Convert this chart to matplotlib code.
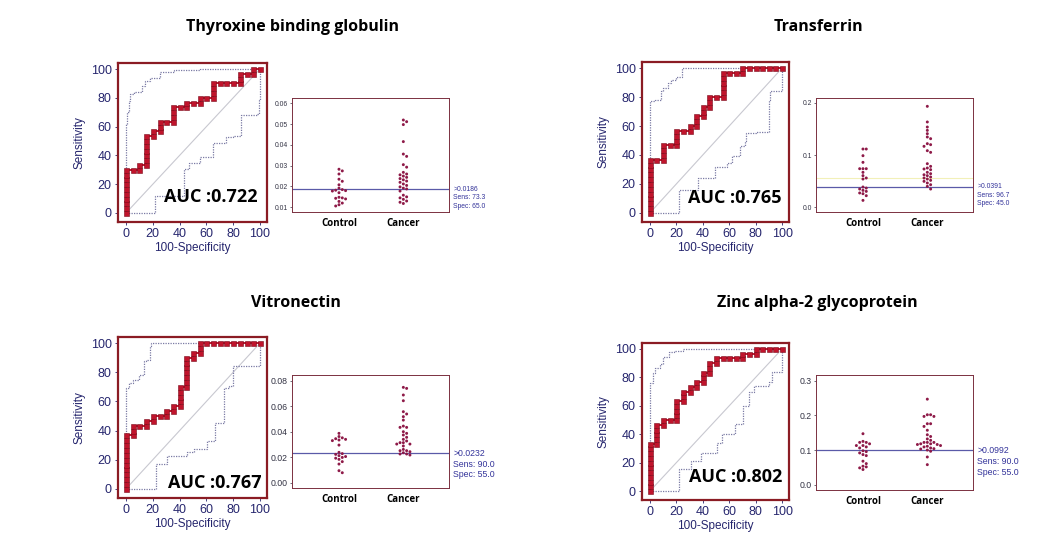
import numpy as np
import matplotlib
matplotlib.use("Agg")
import matplotlib.pyplot as plt
from matplotlib import font_manager

# ---- data ----
titles = ["Thyroxine binding globulin", "Transferrin", "Vitronectin", "Zinc alpha-2 glycoprotein"]
auc_labels = ["AUC :0.722", "AUC :0.765", "AUC :0.767", "AUC :0.802"]
groups = ["Control", "Cancer"]
n_control, n_cancer = 20, 30

# number of cancer cases above threshold after k controls (k = 0..20)
roc_tbg = [9, 9, 10, 16, 17, 19, 19, 22, 22, 23, 23, 24, 24, 27, 27, 27, 27, 29, 29, 30, 30]
roc_trf = [11, 11, 14, 14, 17, 17, 18, 20, 22, 24, 24, 29, 29, 29, 30, 30, 30, 30, 30, 30, 30]
roc_vtn = [11, 13, 13, 14, 15, 15, 16, 17, 21, 27, 28, 30, 30, 30, 30, 30, 30, 30, 30, 30, 30]
roc_zag = [10, 14, 15, 15, 19, 21, 22, 23, 25, 27, 28, 28, 28, 28, 29, 29, 30, 30, 30, 30, 30]

# confidence bands (corner points)
up_tbg_x = [0, 0, 1, 2, 3.2, 5.7, 12, 14.4, 18, 25.6, 35.5, 55, 100]
up_tbg_y = [0, 55, 62, 70, 77.5, 83, 84, 88, 91.4, 93.8, 97.7, 99, 100]
lo_tbg_x = [0, 21.8, 43, 46.7, 55, 65, 75, 80, 86, 97.5, 99.5, 100]
lo_tbg_y = [0, 12, 30.5, 34.7, 39, 48.6, 52.8, 53.7, 68, 68.5, 78.7, 100]

up_trf_x = [0, 0, 3.7, 8.5, 9.8, 13.4, 15.9, 19.5, 24.4, 26.8, 100]
up_trf_y = [0, 70, 77, 78, 84, 86, 89.7, 92, 94, 100, 100]
lo_trf_x = [0, 22, 36.6, 49.5, 58.5, 62, 68, 72, 73, 80.5, 90, 91, 99, 100]
lo_trf_y = [0, 16, 24, 32, 34.5, 39, 46, 49.4, 55, 56, 78, 84, 84, 100]

up_vtn_x = [0, 0, 2.5, 5, 10, 13.6, 14.8, 18, 18.5, 23.5, 100]
up_vtn_y = [0, 67, 69, 72.7, 75, 78.4, 87.5, 88.6, 97.7, 100, 100]
lo_vtn_x = [0, 22.2, 30.9, 45.7, 50.6, 60.5, 66.7, 72.8, 76.5, 80.2, 99.5, 100]
lo_vtn_y = [0, 17, 22.7, 25, 27.3, 33, 45.5, 69, 70.5, 84, 84, 100]

up_zag_x = [0, 0, 2.5, 3.7, 7.4, 9.9, 14.8, 18.5, 24.7, 70, 100]
up_zag_y = [0, 74.8, 76, 82.8, 86.3, 89.7, 94.3, 97.7, 98.9, 100, 100]
lo_zag_x = [0, 22.2, 30.9, 38.3, 50.6, 54.3, 64.2, 70.4, 75.3, 79, 90, 92.6, 98.8, 100]
lo_zag_y = [0, 15.3, 21, 26.8, 33.6, 40.5, 47.4, 60, 70, 73.7, 77, 84, 84, 100]

# dot plot values
ctl_tbg = [0.0283, 0.0275, 0.026, 0.0235, 0.0225, 0.0208, 0.0192, 0.0185, 0.0182, 0.018,
           0.0178, 0.017, 0.0148, 0.0145, 0.0143, 0.014, 0.0128, 0.012, 0.0112, 0.0106]
can_tbg = [0.052, 0.0512, 0.0498, 0.0416, 0.0356, 0.0345, 0.0305, 0.0293, 0.0268, 0.026,
           0.0256, 0.025, 0.0244, 0.0238, 0.0232, 0.0226, 0.022, 0.0212, 0.0205, 0.0198,
           0.0192, 0.0188, 0.0178, 0.0158, 0.015, 0.0145, 0.0138, 0.013, 0.0124, 0.0118]
ctl_trf = [0.1115, 0.1115, 0.0987, 0.0859, 0.0737, 0.0737, 0.0737, 0.0667, 0.0603, 0.0558,
           0.0538, 0.0385, 0.0365, 0.0346, 0.032, 0.0301, 0.027, 0.0256, 0.0218, 0.0128]
can_trf = [0.1936, 0.1635, 0.1538, 0.1474, 0.141, 0.1346, 0.1314, 0.1218, 0.1199, 0.1167,
           0.1083, 0.1051, 0.0833, 0.0782, 0.075, 0.0731, 0.0718, 0.0667, 0.0641, 0.062,
           0.0603, 0.0577, 0.0558, 0.0538, 0.0513, 0.0494, 0.0462, 0.0429, 0.0397, 0.0346]
ctl_vtn = [0.0387, 0.0362, 0.0352, 0.0345, 0.034, 0.0335, 0.033, 0.0295, 0.0238, 0.0228,
           0.0222, 0.0212, 0.0205, 0.0198, 0.0192, 0.0183, 0.0165, 0.0146, 0.0094, 0.0078]
can_vtn = [0.0748, 0.074, 0.0688, 0.0643, 0.0557, 0.0539, 0.0518, 0.0491, 0.0444, 0.0434,
           0.0434, 0.04, 0.0387, 0.0374, 0.0356, 0.034, 0.0327, 0.0314, 0.0314, 0.0303,
           0.0303, 0.0288, 0.0261, 0.0251, 0.0251, 0.0243, 0.0235, 0.0225, 0.0225, 0.0217]
ctl_zag = [0.147, 0.125, 0.122, 0.122, 0.118, 0.113, 0.113, 0.109, 0.106, 0.098,
           0.0955, 0.0917, 0.087, 0.084, 0.068, 0.061, 0.0535, 0.0516, 0.0487, 0.044]
can_zag = [0.2465, 0.2016, 0.2016, 0.1968, 0.1968, 0.1758, 0.1758, 0.168, 0.157, 0.144,
           0.139, 0.132, 0.128, 0.122, 0.122, 0.122, 0.118, 0.118, 0.116, 0.116,
           0.113, 0.111, 0.109, 0.106, 0.104, 0.103, 0.1, 0.0965, 0.08, 0.058]

cutoffs = [0.0186, 0.0391, 0.0232, 0.0992]
sens_vals = ["73.3", "96.7", "90.0", "90.0"]
spec_vals = ["65.0", "45.0", "55.0", "55.0"]
dot_yticks = [[0.01, 0.02, 0.03, 0.04, 0.05, 0.06], [0.0, 0.1, 0.2],
              [0.00, 0.02, 0.04, 0.06, 0.08], [0.0, 0.1, 0.2, 0.3]]
dot_fmt = ["%.2f", "%.1f", "%.2f", "%.1f"]
dot_ylim = [(0.0077, 0.0626), (-0.0096, 0.2096), (-0.0042, 0.0845), (-0.015, 0.316)]

# ---- layout (figure fractions) ----
roc_rects = [[0.1130, 0.5993, 0.1427, 0.2870], [0.6149, 0.5993, 0.1408, 0.2888],
             [0.1130, 0.1011, 0.1427, 0.2906], [0.6149, 0.0975, 0.1408, 0.2834]]
dot_rects = [[0.2797, 0.6173, 0.1504, 0.2058], [0.7816, 0.6173, 0.1504, 0.2058],
             [0.2797, 0.1191, 0.1504, 0.2040], [0.7816, 0.1155, 0.1504, 0.2076]]
title_pos = [(0.2797, 0.951), (0.7835, 0.951), (0.2835, 0.453), (0.7825, 0.453)]
auc_pos = [(0.94, 0.157), (0.952, 0.15), (0.966, 0.093), (0.952, 0.146)]
small_font = [4.9, 4.9, 6.3, 6.3]

NAVY = "#26266e"
FRAME = "#8b1c24"
RED = "#c0142c"
DOT = "#8e1a48"
CUT = "#5a5aa8"

rocs = [roc_tbg, roc_trf, roc_vtn, roc_zag]
ups = [(up_tbg_x, up_tbg_y), (up_trf_x, up_trf_y), (up_vtn_x, up_vtn_y), (up_zag_x, up_zag_y)]
los = [(lo_tbg_x, lo_tbg_y), (lo_trf_x, lo_trf_y), (lo_vtn_x, lo_vtn_y), (lo_zag_x, lo_zag_y)]
dots = [(ctl_tbg, can_tbg), (ctl_trf, can_trf), (ctl_vtn, can_vtn), (ctl_zag, can_zag)]


def pick_bold():
    # first family that really has a bold face file
    for fam in ["Noto Sans", "Open Sans", "Lato", "Noto Sans CJK KR", "DejaVu Sans"]:
        try:
            path = font_manager.findfont(font_manager.FontProperties(family=fam, weight="bold"),
                                         fallback_to_default=False)
        except Exception:
            continue
        if "bold" in path.lower():
            return fam
    return "DejaVu Sans"


def roc_points(counts):
    xs, ys = [], []
    prev = 0
    for k, c in enumerate(counts):
        for i in range(prev, c + 1):
            xs.append(100.0 * k / n_control)
            ys.append(100.0 * i / n_cancer)
        prev = c
    return np.array(xs), np.array(ys)


def swarm(vals, center, ylim, h_px, w_px_per_unit, d_px=3.3):
    vals = np.asarray(vals, dtype=float)
    py = (vals - ylim[0]) / (ylim[1] - ylim[0]) * h_px
    order = np.argsort(-vals)
    placed = []
    xs = np.zeros(len(vals))
    for idx in order:
        for j in range(0, 40):
            off = ((j + 1) // 2) * (1 if j % 2 else -1) * d_px
            ok = all((off - px) ** 2 + (py[idx] - pyy) ** 2 >= (d_px * 0.95) ** 2 for px, pyy in placed)
            if ok:
                placed.append((off, py[idx]))
                xs[idx] = center + off / w_px_per_unit
                break
    return xs


fig = plt.figure(figsize=(10.44, 5.54), dpi=100)
tick_font = ["Liberation Sans", "DejaVu Sans"]
bold_font = [pick_bold(), "DejaVu Sans"]

for p in range(4):
    # ROC panel
    ax = fig.add_axes(roc_rects[p])
    ax.plot([0, 100], [0, 100], color="#c8c8d0", lw=0.8, zorder=1)
    ux, uy = ups[p]
    lx, ly = los[p]
    ax.plot(ux, uy, color="#7a7aa4", lw=0.9, ls=(0, (1, 1)), drawstyle="steps-pre", zorder=2)
    ax.plot(lx, ly, color="#7a7aa4", lw=0.9, ls=(0, (1, 1)), drawstyle="steps-post", zorder=2)
    rx, ry = roc_points(rocs[p])
    ax.plot(rx, ry, color=RED, lw=1.4, zorder=3)
    ax.plot(rx, ry, ls="none", marker="s", ms=3.6, mfc=RED, mec="#7a0a1a", mew=0.4, zorder=4)
    ax.set_xlim(-6, 105.2)
    ax.set_ylim(-6.25, 104.2)
    ax.set_xticks([0, 20, 40, 60, 80, 100])
    ax.set_yticks([0, 20, 40, 60, 80, 100])
    for s in ax.spines.values():
        s.set_color(FRAME)
        s.set_linewidth(1.6)
    ax.tick_params(colors=NAVY, labelsize=9, length=2.5, width=0.6, pad=2)
    for lab in ax.get_xticklabels() + ax.get_yticklabels():
        lab.set_family(tick_font)
    ax.set_xlabel("100-Specificity", color=NAVY, fontsize=8.5, family=tick_font, labelpad=1)
    ax.set_ylabel("Sensitivity", color=NAVY, fontsize=8.5, family=tick_font, labelpad=4)
    ax.text(auc_pos[p][0], auc_pos[p][1], auc_labels[p], transform=ax.transAxes,
            ha="right", va="center", fontsize=13, fontweight="bold", family=bold_font, zorder=5)

    # dot plot panel
    dx = fig.add_axes(dot_rects[p])
    ylim = dot_ylim[p]
    h_px = dot_rects[p][3] * 554
    w_unit = dot_rects[p][2] * 1044 / 2.44
    if p == 1:
        dx.axhline(0.055, color="#f2f0b8", lw=0.8, zorder=1)
    dx.axhline(cutoffs[p], color=CUT, lw=0.9, zorder=2)
    for g, vals in enumerate(dots[p]):
        xs = swarm(vals, g, ylim, h_px, w_unit)
        dx.scatter(xs, vals, s=4.5, color=DOT, edgecolors="none", zorder=3)
    dx.set_xlim(-0.73, 1.71)
    dx.set_ylim(*ylim)
    dx.set_xticks([0, 1])
    dx.set_xticklabels(groups, fontsize=7, fontweight="bold", family=bold_font)
    dx.set_yticks(dot_yticks[p])
    dx.set_yticklabels([dot_fmt[p] % v for v in dot_yticks[p]], family=tick_font)
    dx.tick_params(axis="y", labelsize=small_font[p], length=1.5, width=0.5, colors="#333344", pad=1.5)
    dx.tick_params(axis="x", length=0, pad=4, colors="black")
    for s in dx.spines.values():
        s.set_color("#7b3040")
        s.set_linewidth(0.7)
    fs = small_font[p]
    lines = [">%s" % ("%.4f" % cutoffs[p]), "Sens: " + sens_vals[p], "Spec: " + spec_vals[p]]
    for i, t in enumerate(lines):
        dx.annotate(t, xy=(1.0, cutoffs[p]), xycoords=("axes fraction", "data"),
                    xytext=(3, -i * fs * 1.25), textcoords="offset points",
                    ha="left", va="center", fontsize=fs, color="#33339a", family=tick_font,
                    annotation_clip=False)

    fig.text(title_pos[p][0], title_pos[p][1], titles[p], ha="center", va="center",
             fontsize=11.5, fontweight="bold", family=bold_font)

fig.savefig("out.png", dpi=100)
